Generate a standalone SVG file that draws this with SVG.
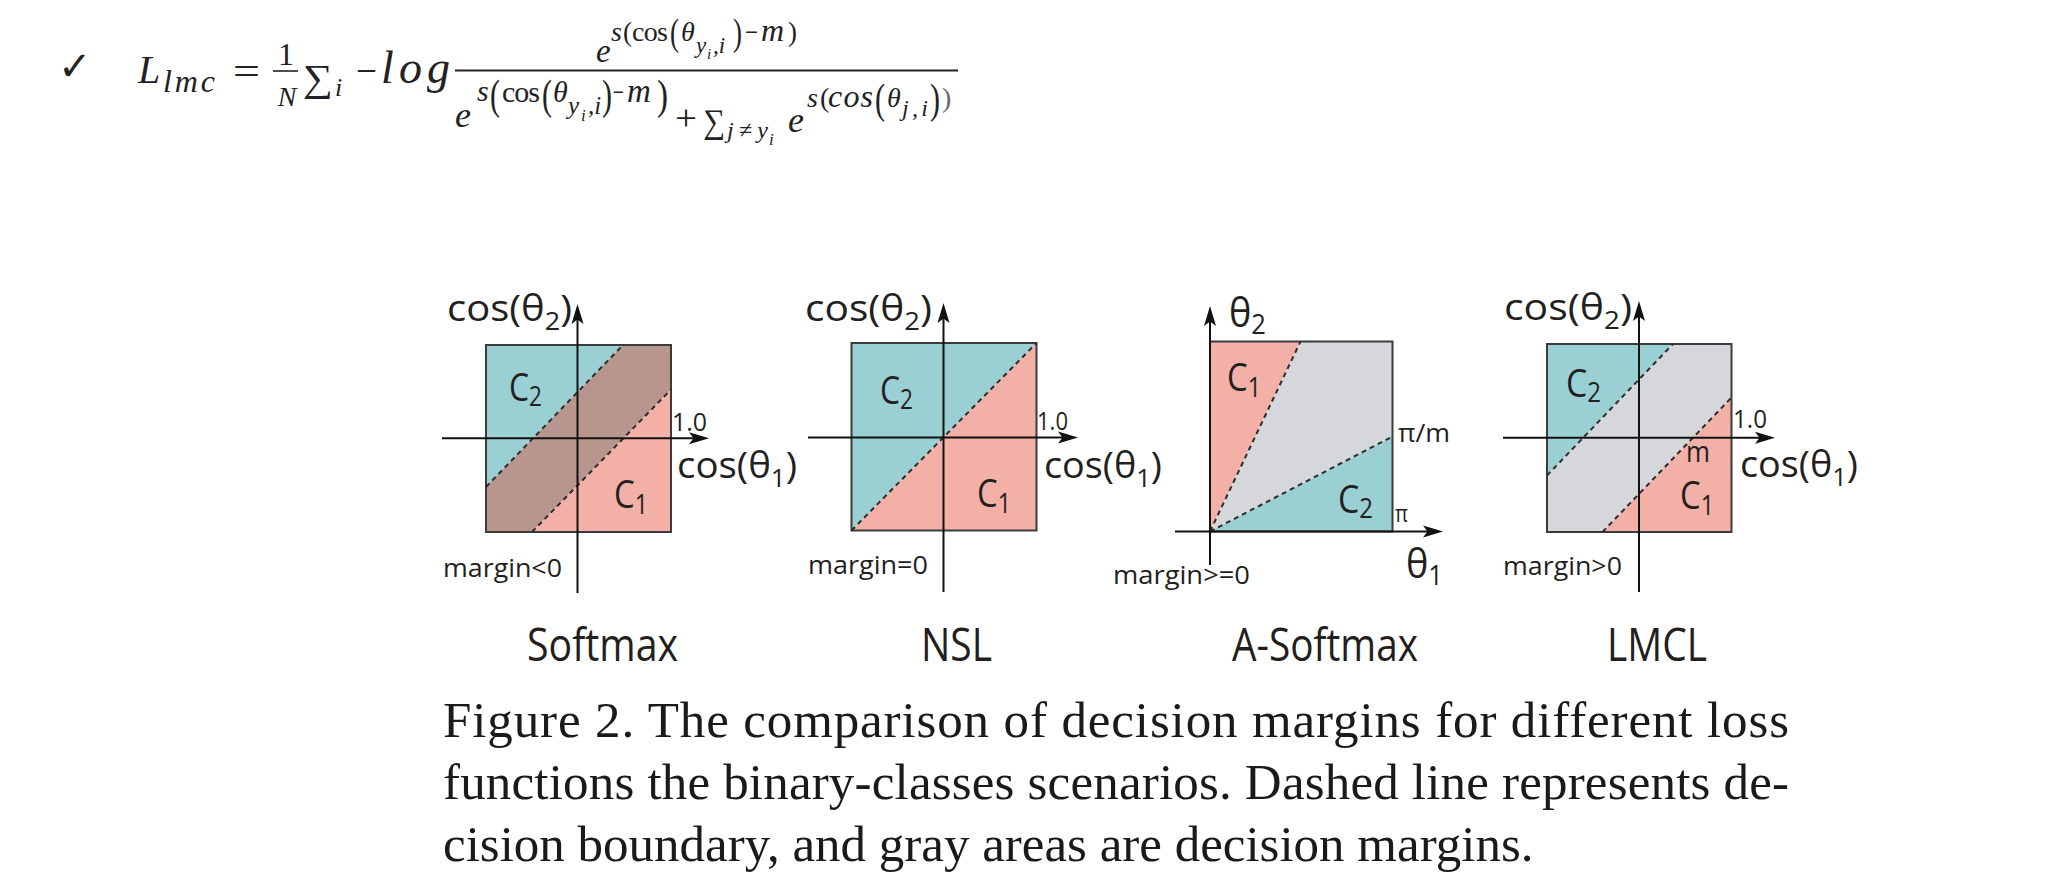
<svg xmlns="http://www.w3.org/2000/svg" width="2058" height="890" viewBox="0 0 2058 890">
<style>
.lab{font-family:"Open Sans","Noto Sans",sans-serif;fill:#231f20}
.mi{font-family:"Liberation Serif","DejaVu Serif",serif;font-style:italic;fill:#222}
.mu{font-family:"Liberation Serif","DejaVu Serif",serif;fill:#222}
.cap{font-family:"Liberation Serif","Times New Roman",serif;font-size:51px;fill:#1a1a1a}
.teal{fill:#9ad0d4}
.salmon{fill:#f2b0a6}
.band{fill:#b9968d}
.gray{fill:#d6d7da}
.box{fill:none;stroke:#3b3b3b;stroke-width:2}
.dash{fill:none;stroke:#2c2c2c;stroke-width:2;stroke-dasharray:5 4}
.axis{stroke:#111;stroke-width:2;fill:none;marker-end:url(#ah)}
</style>
<defs>
<marker id="ah" markerUnits="userSpaceOnUse" markerWidth="20" markerHeight="13" viewBox="0 0 20 13" refX="10" refY="6.5" orient="auto">
<path d="M0,0.5 L20,6.5 L0,12.5 L4.5,6.5 z" fill="#111"/>
</marker>
</defs>
<rect x="0" y="0" width="2058" height="890" fill="#fff"/>

<g id="formula">
<text x="58" y="80" style="font-family:'DejaVu Sans',sans-serif;fill:#222" font-size="40">✓</text>
<text class="mi" x="138" y="83" font-size="40">L</text>
<text class="mi" x="163" y="92" font-size="32" textLength="52" lengthAdjust="spacing">lmc</text>
<text class="mu" x="233" y="85" font-size="40" textLength="27" lengthAdjust="spacingAndGlyphs">=</text>
<text class="mu" x="286" y="65" font-size="32" text-anchor="middle">1</text>
<line x1="273" y1="71" x2="298" y2="71" stroke="#222" stroke-width="1.6"/>
<text class="mi" x="287" y="106" font-size="28" text-anchor="middle">N</text>
<text class="mu" x="303" y="91" font-size="38" textLength="30" lengthAdjust="spacingAndGlyphs">∑</text>
<text class="mi" x="335" y="96" font-size="26">i</text>
<text class="mu" x="356" y="84" font-size="40" textLength="21" lengthAdjust="spacingAndGlyphs">−</text>
<text class="mi" x="381" y="83" font-size="46" textLength="69" lengthAdjust="spacing">log</text>
<line x1="455" y1="70.5" x2="958" y2="70.5" stroke="#222" stroke-width="2"/>
<!-- numerator -->
<text class="mi" x="596" y="62" font-size="33">e</text>
<text class="mi" x="611" y="41" font-size="28">s</text>
<text class="mu" x="623" y="41" font-size="27">(</text>
<text class="mu" x="632" y="41" font-size="28" textLength="36" lengthAdjust="spacing">cos</text>
<text class="mu" x="670" y="45" font-size="38" textLength="9" lengthAdjust="spacingAndGlyphs">(</text>
<text class="mi" x="681" y="41" font-size="28">θ</text>
<text class="mi" x="696" y="53" font-size="23">y</text>
<text class="mi" x="707" y="59" font-size="15">i</text>
<text class="mi" x="713" y="53" font-size="23">,i</text>
<text class="mu" x="733" y="45" font-size="38" textLength="9" lengthAdjust="spacingAndGlyphs">)</text>
<text class="mu" x="745" y="41" font-size="27" textLength="13" lengthAdjust="spacingAndGlyphs">−</text>
<text class="mi" x="761" y="41" font-size="32">m</text>
<text class="mu" x="788" y="41" font-size="27">)</text>
<!-- denominator -->
<text class="mi" x="455" y="127" font-size="36">e</text>
<text class="mi" x="477" y="101" font-size="30">s</text>
<text class="mu" x="490" y="109" font-size="42" textLength="10" lengthAdjust="spacingAndGlyphs">(</text>
<text class="mu" x="502" y="101.5" font-size="30" textLength="38" lengthAdjust="spacing">cos</text>
<text class="mu" x="542" y="109" font-size="42" textLength="10" lengthAdjust="spacingAndGlyphs">(</text>
<text class="mi" x="553" y="101.5" font-size="30">θ</text>
<text class="mi" x="568" y="114" font-size="25">y</text>
<text class="mi" x="581" y="121" font-size="17">i</text>
<text class="mi" x="588" y="114" font-size="25">,i</text>
<text class="mu" x="602" y="109" font-size="42" textLength="10" lengthAdjust="spacingAndGlyphs">)</text>
<text class="mu" x="613" y="101.5" font-size="30" textLength="11" lengthAdjust="spacingAndGlyphs">−</text>
<text class="mi" x="627" y="101.5" font-size="33">m</text>
<text class="mu" x="657" y="109" font-size="42" textLength="11" lengthAdjust="spacingAndGlyphs">)</text>
<text class="mu" x="675" y="130" font-size="36" textLength="22" lengthAdjust="spacingAndGlyphs">+</text>
<text class="mu" x="703" y="133" font-size="34" textLength="22" lengthAdjust="spacingAndGlyphs">∑</text>
<text class="mi" x="727" y="138" font-size="24" textLength="41" lengthAdjust="spacing">j≠y</text>
<text class="mi" x="769" y="145" font-size="17">i</text>
<text class="mi" x="788" y="131.5" font-size="36">e</text>
<text class="mi" x="807" y="106.5" font-size="28">s</text>
<text class="mu" x="820" y="106.5" font-size="28">(</text>
<text class="mi" x="828" y="106.5" font-size="32" textLength="45" lengthAdjust="spacing">cos</text>
<text class="mu" x="875" y="112.5" font-size="42" textLength="10" lengthAdjust="spacingAndGlyphs">(</text>
<text class="mi" x="887" y="106.5" font-size="28">θ</text>
<text class="mi" x="902" y="116" font-size="24" textLength="26" lengthAdjust="spacing">j,i</text>
<text class="mu" x="930" y="112.5" font-size="42" textLength="10" lengthAdjust="spacingAndGlyphs">)</text>
<text class="mu" x="942" y="106.5" font-size="28" style="fill:#666">)</text>
</g>

<g id="softmax">
<polygon class="teal" points="486,345 623,345 486,487"/>
<polygon class="band" points="623,345 671,345 671,389.5 532,532 486,532 486,487"/>
<polygon class="salmon" points="671,389.5 671,532 532,532"/>
<rect class="box" x="486" y="345" width="185" height="187"/>
<line class="dash" x1="486" y1="487" x2="623" y2="345"/>
<line class="dash" x1="532" y1="532" x2="671" y2="389.5"/>
<line class="axis" x1="577.5" y1="593" x2="577.5" y2="314"/>
<line class="axis" x1="442" y1="438.3" x2="699" y2="438.3"/>
<text class="lab" x="447" y="321" font-size="37" textLength="125" lengthAdjust="spacingAndGlyphs">cos(θ<tspan font-size="25" dy="9">2</tspan><tspan dy="-9">)</tspan></text>
<text class="lab" x="677" y="478" font-size="37" textLength="120" lengthAdjust="spacingAndGlyphs">cos(θ<tspan font-size="25" dy="9">1</tspan><tspan dy="-9">)</tspan></text>
<text class="lab" x="672" y="431" font-size="26" textLength="35" lengthAdjust="spacingAndGlyphs">1.0</text>
<text class="lab" x="509" y="401" font-size="38" textLength="33" lengthAdjust="spacingAndGlyphs">C<tspan font-size="27" dy="5">2</tspan></text>
<text class="lab" x="614" y="508" font-size="38" textLength="34" lengthAdjust="spacingAndGlyphs">C<tspan font-size="27" dy="6">1</tspan></text>
<text class="lab" x="443" y="577" font-size="26" textLength="119" lengthAdjust="spacingAndGlyphs">margin&lt;0</text>
<text class="lab" x="527" y="661" font-size="46" textLength="151" lengthAdjust="spacingAndGlyphs">Softmax</text>
</g>

<g id="nsl">
<polygon class="teal" points="851.5,343 1036.5,343 851.5,530.5"/>
<polygon class="salmon" points="1036.5,343 1036.5,530.5 851.5,530.5"/>
<rect class="box" x="851.5" y="343" width="185" height="187.5"/>
<line class="dash" x1="851.5" y1="530.5" x2="1036.5" y2="343"/>
<line class="axis" x1="943.5" y1="592" x2="943.5" y2="313"/>
<line class="axis" x1="808" y1="437.5" x2="1068" y2="437.5"/>
<text class="lab" x="805" y="321" font-size="37" textLength="127" lengthAdjust="spacingAndGlyphs">cos(θ<tspan font-size="25" dy="9">2</tspan><tspan dy="-9">)</tspan></text>
<text class="lab" x="1044" y="478" font-size="37" textLength="118" lengthAdjust="spacingAndGlyphs">cos(θ<tspan font-size="25" dy="9">1</tspan><tspan dy="-9">)</tspan></text>
<text class="lab" x="1037" y="430" font-size="26" textLength="31" lengthAdjust="spacingAndGlyphs">1.0</text>
<text class="lab" x="880" y="404" font-size="38" textLength="33" lengthAdjust="spacingAndGlyphs">C<tspan font-size="27" dy="5">2</tspan></text>
<text class="lab" x="977" y="507" font-size="38" textLength="34" lengthAdjust="spacingAndGlyphs">C<tspan font-size="27" dy="6">1</tspan></text>
<text class="lab" x="808" y="574" font-size="26" textLength="120" lengthAdjust="spacingAndGlyphs">margin=0</text>
<text class="lab" x="921" y="661" font-size="46" textLength="71" lengthAdjust="spacingAndGlyphs">NSL</text>
</g>

<g id="a-softmax">
<polygon class="salmon" points="1210,341.5 1300.5,341.5 1210,531.5"/>
<polygon class="gray" points="1300.5,341.5 1392.5,341.5 1392.5,436.5 1210,531.5"/>
<polygon class="teal" points="1392.5,436.5 1392.5,531.5 1210,531.5"/>
<rect class="box" x="1210" y="341.5" width="182.5" height="190"/>
<line class="dash" x1="1210" y1="531.5" x2="1300.5" y2="341.5"/>
<line class="dash" x1="1210" y1="531.5" x2="1392.5" y2="436.5"/>
<line class="axis" x1="1210" y1="565" x2="1210" y2="316"/>
<line class="axis" x1="1175" y1="531.5" x2="1433" y2="531.5"/>
<text class="lab" x="1229" y="327" font-size="40" textLength="37" lengthAdjust="spacingAndGlyphs">θ<tspan font-size="27" dy="7">2</tspan></text>
<text class="lab" x="1406" y="578" font-size="40" textLength="37" lengthAdjust="spacingAndGlyphs">θ<tspan font-size="27" dy="7">1</tspan></text>
<text class="lab" x="1398" y="442" font-size="26" textLength="52" lengthAdjust="spacingAndGlyphs">π/m</text>
<text class="lab" x="1395" y="522" font-size="23" textLength="13" lengthAdjust="spacingAndGlyphs">π</text>
<text class="lab" x="1227" y="391" font-size="38" textLength="34" lengthAdjust="spacingAndGlyphs">C<tspan font-size="27" dy="6">1</tspan></text>
<text class="lab" x="1338" y="513" font-size="38" textLength="35" lengthAdjust="spacingAndGlyphs">C<tspan font-size="27" dy="5">2</tspan></text>
<text class="lab" x="1113" y="584" font-size="26" textLength="137" lengthAdjust="spacingAndGlyphs">margin&gt;=0</text>
<text class="lab" x="1232" y="661" font-size="46" textLength="186" lengthAdjust="spacingAndGlyphs">A-Softmax</text>
</g>

<g id="lmcl">
<polygon class="teal" points="1547,344 1673,344 1547,475.5"/>
<polygon class="gray" points="1673,344 1731.5,344 1731.5,397.5 1602.5,532 1547,532 1547,475.5"/>
<polygon class="salmon" points="1731.5,397.5 1731.5,532 1602.5,532"/>
<rect class="box" x="1547" y="344" width="184.5" height="188"/>
<line class="dash" x1="1547" y1="475.5" x2="1673" y2="344"/>
<line class="dash" x1="1602.5" y1="532" x2="1731.5" y2="397.5"/>
<line class="axis" x1="1639" y1="592" x2="1639" y2="311"/>
<line class="axis" x1="1503" y1="437.7" x2="1765" y2="437.7"/>
<text class="lab" x="1504" y="320" font-size="37" textLength="128" lengthAdjust="spacingAndGlyphs">cos(θ<tspan font-size="25" dy="9">2</tspan><tspan dy="-9">)</tspan></text>
<text class="lab" x="1740" y="477" font-size="37" textLength="118" lengthAdjust="spacingAndGlyphs">cos(θ<tspan font-size="25" dy="9">1</tspan><tspan dy="-9">)</tspan></text>
<text class="lab" x="1733" y="428" font-size="26" textLength="34" lengthAdjust="spacingAndGlyphs">1.0</text>
<text class="lab" x="1686" y="462" font-size="29" textLength="24" lengthAdjust="spacingAndGlyphs">m</text>
<text class="lab" x="1566" y="397" font-size="38" textLength="35" lengthAdjust="spacingAndGlyphs">C<tspan font-size="27" dy="5">2</tspan></text>
<text class="lab" x="1680" y="509" font-size="38" textLength="34" lengthAdjust="spacingAndGlyphs">C<tspan font-size="27" dy="6">1</tspan></text>
<text class="lab" x="1503" y="575" font-size="26" textLength="119" lengthAdjust="spacingAndGlyphs">margin&gt;0</text>
<text class="lab" x="1607" y="661" font-size="46" textLength="100" lengthAdjust="spacingAndGlyphs">LMCL</text>
</g>

<g id="caption">
<text class="cap" x="443" y="737" textLength="1346" lengthAdjust="spacing">Figure 2. The comparison of decision margins for different loss</text>
<text class="cap" x="443" y="799" textLength="1346" lengthAdjust="spacing">functions the binary-classes scenarios. Dashed line represents de-</text>
<text class="cap" x="443" y="861">cision boundary, and gray areas are decision margins.</text>
</g>
</svg>
